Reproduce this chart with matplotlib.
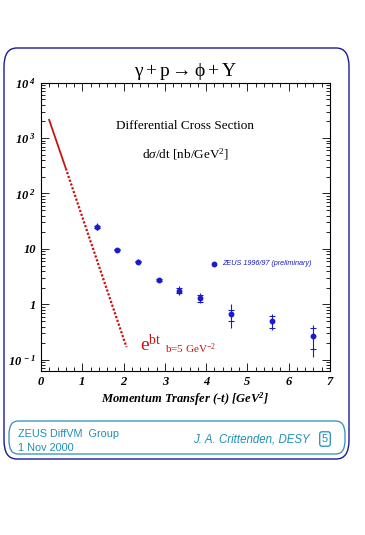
import numpy as np
import matplotlib
matplotlib.use('Agg')
from matplotlib import pyplot as plt
from matplotlib.patches import FancyBboxPatch
from matplotlib.ticker import FixedLocator, MultipleLocator, LogLocator, NullFormatter

# ZEUS 1996/97 (preliminary) points
t_pts = [1.35, 1.85, 2.35, 2.85, 3.35, 3.85, 4.6, 5.6, 6.6]
dsdt = [25.0, 9.6, 5.9, 2.75, 1.78, 1.3, 0.66, 0.51, 0.27]
err_lo = [22.0, 8.9, 5.4, 2.55, 1.48, 1.05, 0.37, 0.34, 0.115]
err_hi = [29.0, 10.4, 6.5, 3.0, 2.14, 1.6, 1.0, 0.68, 0.42]
cap_lo = [24.0, 9.4, 5.7, 2.65, 1.62, 1.12, 0.5, 0.38, 0.16]
cap_hi = [26.0, 9.8, 6.1, 2.85, 1.95, 1.48, 0.8, 0.62, 0.37]

# e^bt line, b = 5 GeV^-2 (solid top, dotted rest)
line_t_solid = [0.19, 0.6]
line_y_solid = [2200.0, 284.0]
line_t_dot = [0.6, 2.07]
line_y_dot = [284.0, 0.17]

ytick_vals = [0.1, 1, 10, 100, 1000, 10000]
ytick_labels = [r'$\mathbf{10^{\ -1}}$', '1', '10', r'$\mathbf{10^{\ 2}}$',
                r'$\mathbf{10^{\ 3}}$', r'$\mathbf{10^{\ 4}}$']

plt.rcParams['font.family'] = ['Liberation Serif', 'DejaVu Serif']
plt.rcParams['mathtext.fontset'] = 'custom'
plt.rcParams['mathtext.rm'] = 'Liberation Serif'
plt.rcParams['mathtext.it'] = 'Liberation Serif:italic'
plt.rcParams['mathtext.bf'] = 'Liberation Serif:bold:italic'

fig = plt.figure(figsize=(3.65, 5.35), dpi=100)
W, H = 365.0, 535.0

# outer navy frame and footer box
outer = FancyBboxPatch((4 / W, 1 - 459 / H), 345 / W, 411 / H,
                       boxstyle='round,pad=0,rounding_size=0.035',
                       transform=fig.transFigure, fill=False,
                       edgecolor='#1a1a9a', linewidth=1.0)
fig.patches.append(outer)
footer = FancyBboxPatch((9 / W, 1 - 454 / H), 336 / W, 33 / H,
                        boxstyle='round,pad=0,rounding_size=0.025',
                        transform=fig.transFigure, fill=False,
                        edgecolor='#2a8fb8', linewidth=0.9)
fig.patches.append(footer)

teal = '#1f8fb5'
fig.text(18 / W, 1 - 434 / H, 'ZEUS DiffVM  Group', family='Liberation Sans',
         fontsize=7.8, color=teal, va='center')
fig.text(18 / W, 1 - 448 / H, '1 Nov 2000', family='Liberation Sans',
         fontsize=7.8, color=teal, va='center')
fig.text(310 / W, 1 - 439 / H, 'J. A. Crittenden, DESY', family='Liberation Sans',
         style='italic', fontsize=8.3, color=teal, va='center', ha='right')
fig.text(325 / W, 1 - 439 / H, '5', family='Liberation Sans', fontsize=8,
         color=teal, va='center', ha='center',
         bbox=dict(boxstyle='round,pad=0.2', fc='none', ec=teal, lw=0.9))

ax = fig.add_axes([41 / W, 1 - 371 / H, 289 / W, 288.5 / H])
ax.set_yscale('log')
ax.set_xlim(0, 7)
ax.set_ylim(10 ** -1.2, 1e4)

ax.plot(line_t_solid, line_y_solid, color='#cc1111', lw=1.3, solid_capstyle='butt')
ax.plot(line_t_dot, line_y_dot, color='#cc1111', lw=1.6, linestyle=(0, (1, 0.8)))

yerr = [np.array(dsdt) - np.array(err_lo), np.array(err_hi) - np.array(dsdt)]
ax.errorbar(t_pts, dsdt, yerr=yerr, fmt='o', color='#1a1ad0', ms=3.2,
            elinewidth=0.8, capsize=0)
ax.scatter(t_pts, cap_lo, marker='_', s=22, color='#1a1ad0', linewidths=0.8)
ax.scatter(t_pts, cap_hi, marker='_', s=22, color='#1a1ad0', linewidths=0.8)

# legend
ax.plot([4.2], [5.4], 'o', color='#1a1ad0', ms=3.2)
ax.text(4.38, 5.4, 'ZEUS 1996/97 (preliminary)', fontsize=5.2, style='italic',
        color='#1a1ad0', va='center', family='Liberation Sans')

ax.text(2.4, 0.19, r'e$^{\mathrm{bt}}$', color='#cc1111', fontsize=14, va='center')
ax.text(3.0, 0.16, r'b=5 GeV$^{-2}$', color='#cc1111', fontsize=8, va='center')

ax.text(0.5, 0.85, 'Differential Cross Section', transform=ax.transAxes,
        ha='center', va='center', fontsize=9.5)
ax.text(0.5, 0.75, r'd$\sigma$/dt [nb/GeV$^2$]', transform=ax.transAxes,
        ha='center', va='center', fontsize=9.5)
ax.set_title(r'$\mathrm{\gamma + p \rightarrow \phi + Y}$', fontsize=14, pad=5)

ax.yaxis.set_major_locator(FixedLocator(ytick_vals))
ax.set_yticklabels(ytick_labels)
ax.yaxis.set_minor_locator(LogLocator(base=10, subs=np.arange(2, 10), numticks=20))
ax.yaxis.set_minor_formatter(NullFormatter())
ax.xaxis.set_major_locator(MultipleLocator(1))
ax.xaxis.set_minor_locator(MultipleLocator(0.2))
ax.tick_params(which='both', direction='in', top=True, right=True, width=0.6)
ax.tick_params(which='major', length=6)
ax.tick_params(which='minor', length=3)
for lab in ax.get_xticklabels() + ax.get_yticklabels():
    lab.set_fontweight('bold')
    lab.set_fontstyle('italic')
    lab.set_fontsize(9)
for sp in ax.spines.values():
    sp.set_linewidth(0.8)

ax.set_xlabel(r'Momentum Transfer (-t) [GeV$^{\mathbf{2}}$]', fontsize=9,
              fontweight='bold', style='italic', labelpad=2)

fig.savefig('out.png', dpi=100)
